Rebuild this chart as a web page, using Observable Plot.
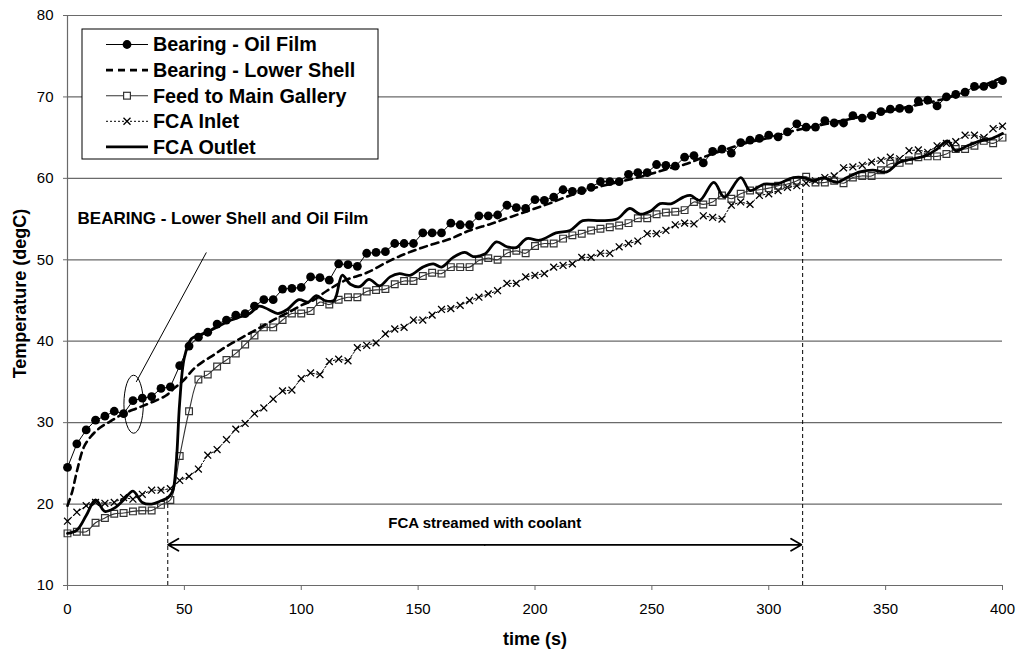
<!DOCTYPE html>
<html><head><meta charset="utf-8">
<script src="https://cdn.jsdelivr.net/npm/d3@7"></script>
<script src="https://cdn.jsdelivr.net/npm/@observablehq/plot@0.6"></script>
<style>
html,body{margin:0;padding:0;background:#fff;}
#chart{width:1022px;height:655px;}
</style></head><body><div id="chart"></div>
<script>
// ---------------- data ----------------
const sampleTime = [0,4,8,12,16,20,24,28,32,36,40,44,48,52,56,60,64,68,72,76,80,84,88,92,96,100,104,108,112,116,120,124,128,132,136,140,144,148,152,156,160,164,168,172,176,180,184,188,192,196,200,204,208,212,216,220,224,228,232,236,240,244,248,252,256,260,264,268,272,276,280,284,288,292,296,300,304,308,312,316,320,324,328,332,336,340,344,348,352,356,360,364,368,372,376,380,384,388,392,396,400];

const oilFilm = [24.5,27.4,29.1,30.3,30.8,31.4,31.1,32.7,33.0,33.2,
 34.2,34.4,37.0,39.4,40.5,41.1,42.1,42.6,43.2,43.4,
 44.3,45.1,45.1,46.4,46.5,46.6,47.9,47.8,47.5,49.5,
 49.4,49.2,50.8,50.9,51.0,52.0,52.0,52.0,53.3,53.3,
 53.3,54.5,54.3,54.3,55.4,55.4,55.5,56.7,56.4,56.3,
 57.4,57.3,57.7,58.6,58.4,58.5,58.9,59.6,59.6,59.6,
 60.5,60.7,60.7,61.7,61.6,61.5,62.6,62.8,61.9,63.3,
 63.6,63.1,64.4,64.7,64.9,65.3,65.1,65.7,66.7,66.3,
 66.3,67.1,66.8,66.8,67.7,67.4,67.7,68.2,68.5,68.6,
 68.5,69.5,69.6,68.9,70.0,70.3,70.6,71.3,71.3,71.5,
 72.0];

const feedGallery = [16.4,16.6,16.6,17.7,18.3,18.8,18.9,19.1,19.2,19.2,
 19.9,20.5,25.9,31.4,35.3,35.9,36.9,37.7,38.5,39.6,
 40.7,41.7,41.7,42.6,43.4,43.4,43.7,44.8,44.5,45.1,
 45.4,45.4,46.1,46.3,46.4,47.0,47.4,47.4,48.0,48.4,
 48.3,49.1,49.1,49.1,49.9,50.2,50.0,50.8,51.1,50.8,
 51.7,52.0,52.0,52.6,53.0,53.2,53.6,53.8,54.0,54.2,
 54.5,55.1,55.1,55.6,55.8,55.9,56.1,57.1,56.8,57.1,
 57.9,57.5,58.1,58.5,58.6,58.8,59.1,59.3,59.7,60.2,
 59.5,59.5,59.7,59.4,60.1,60.3,60.3,61.0,61.8,61.9,
 62.2,62.6,62.7,62.7,63.0,63.6,63.6,64.0,64.6,64.3,
 65.0];

const fcaInlet = [17.9,19.0,19.8,20.2,20.1,20.2,20.8,20.6,21.2,21.7,
 21.7,21.9,22.9,23.4,24.3,26.0,26.7,27.9,29.2,29.9,
 31.1,31.8,32.9,33.9,34.0,35.4,36.1,35.9,37.5,37.8,
 37.6,39.2,39.5,39.8,40.9,41.5,41.7,42.6,42.6,43.2,
 43.9,44.0,44.4,45.0,45.4,45.8,46.2,47.1,47.1,47.9,
 48.1,48.3,49.1,49.3,49.5,50.3,50.3,50.8,50.8,51.6,
 52.0,52.3,53.2,53.2,53.6,54.3,54.5,54.4,55.4,55.2,
 55.0,56.7,57.1,56.8,57.9,58.1,58.5,58.9,59.1,59.4,
 59.7,60.1,60.3,61.3,61.4,61.6,62.0,62.2,62.6,62.4,
 63.4,63.5,63.2,64.0,64.3,64.5,65.3,65.3,65.0,66.1,
 66.4];

const lowerShellTime = [0,2,4,7,10,14,18,24,30,36,42,46,50,54,58,62,66,70,75,80,85,90,95,100,105,111,119,128,138,146,155,164,172,181,189,198,206,215,224,232,241,249,256,265,272,280,290,300,310,320,330,340,350,360,370,380,390,400];
const lowerShell = [19.8,21.5,24.0,27.0,28.3,29.4,30.1,31.1,31.8,32.5,33.3,34.3,35.3,36.6,37.5,38.2,39.0,39.7,40.5,41.3,42.1,42.9,43.6,44.4,45.0,46.2,47.5,48.4,49.9,50.9,51.8,52.6,53.6,54.4,55.2,56.1,56.9,57.9,58.7,59.3,59.9,60.5,61.1,61.8,62.6,63.4,64.3,65.0,65.8,66.4,67.0,67.6,68.2,68.8,69.4,70.2,71.2,72.4];

const outletTime = [0,4,8,12,16,20,24,28,32,36,40,43,45,46.5,48,50,53,57,61,65,70,74,78,82,86,90,94,99,103,106.5,110,114,117.5,121,125,129,133.5,138,142,146.5,152,156.5,160,165,170,173.5,178.5,183.5,188,192,196.5,202,209,215,220.5,228,235,240.5,245,249.5,253.5,258.5,263.5,266.5,270.5,276.5,281,288,292,298,303.5,310.5,315,319,323.5,329,333.5,339,344.5,350.5,356,362,367.5,372,376.5,380,385,390.5,395.5,400];
const fcaOutlet = [16.4,16.8,18.6,20.5,19.1,19.5,20.5,21.6,20.2,20.0,20.4,20.8,21.6,25.0,32.5,38.0,40.3,40.8,41.3,41.9,42.6,43.0,43.4,44.3,43.9,43.4,43.9,45.1,44.8,45.6,45.0,45.0,48.1,47.0,46.7,47.6,46.8,47.9,48.3,48.1,49.1,49.5,49.1,50.3,50.9,50.4,50.7,52.2,51.6,51.5,52.6,52.4,53.3,53.6,54.8,54.8,55.0,56.3,55.6,56.0,56.9,56.9,57.7,57.9,57.3,59.5,57.7,60.1,58.5,59.3,59.3,60.1,60.1,59.7,60.1,59.5,60.1,60.8,61.0,60.8,62.0,62.4,62.8,63.6,64.6,63.4,64.0,64.6,64.9,65.5];

const seriesNames = ["Bearing - Oil Film","Bearing - Lower Shell","Feed to Main Gallery","FCA Inlet","FCA Outlet"];
const xTicks = [0,50,100,150,200,250,300,350,400];
const yTicks = [10,20,30,40,50,60,70,80];

// annotations (data units)
const bearingLabel = {t:4.3, v:55.1, text:"BEARING - Lower Shell and Oil Film"};
const bearingPointer = {t1:59.4, v1:50.9, t2:29.4, v2:35.0};
const bearingEllipse = {t:28.5, v:32.2, dt:4.15, dv:3.56};
const coolantLabel = {t:178.5, v:17.7, text:"FCA streamed with coolant"};
const coolantArrow = {start:43, end:314, mid:178.5, v:15};
const coolantMarkers = [{t:42.9, top:20.0},{t:314.5, top:59.2}];

// ---------------- build ----------------
const FONT = "'Liberation Sans', Arial, Helvetica, sans-serif";
const rows = (ts, vs) => ts.map((t,i) => ({t, v: vs[i]}));
const oil = rows(sampleTime, oilFilm);
const feed = rows(sampleTime, feedGallery);
const inlet = rows(sampleTime, fcaInlet);
const shell = rows(lowerShellTime, lowerShell);
const outlet = rows(outletTime, fcaOutlet);

const GRID = "#6a6a6a";

const plot = Plot.plot({
  width: 1022, height: 655,
  marginLeft: 67, marginRight: 20, marginTop: 15, marginBottom: 70,
  style: {fontFamily: FONT, fontSize: "15px", background: "#fff", color: "#000", overflow: "visible"},
  x: {domain: [0, 400], label: null},
  y: {domain: [10, 80], label: null},
  marks: [
    Plot.ruleY(yTicks, {stroke: GRID, strokeWidth: 1.2}),
    Plot.ruleX([0], {y1: 10, y2: 80, stroke: GRID, strokeWidth: 1.2}),
    Plot.axisX({ticks: xTicks, tickSize: 5, tickPadding: 13, stroke: GRID, label: null}),
    Plot.axisY({ticks: yTicks, tickSize: 4, tickPadding: 10, stroke: GRID, label: null}),
    Plot.text(["Temperature (degC)"], {frameAnchor: "left", dx: -47, dy: -7, rotate: -90, textAnchor: "middle", lineAnchor: "middle", fontSize: 18, fontWeight: "bold"}),
    Plot.text(["time (s)"], {frameAnchor: "bottom", dy: 54, textAnchor: "middle", lineAnchor: "middle", fontSize: 18, fontWeight: "bold"}),

    // coolant annotation
    Plot.ruleX(coolantMarkers, {x: "t", y1: 10, y2: "top", stroke: "#000", strokeWidth: 1, strokeDasharray: "4,3"}),
    Plot.arrow([{a: coolantArrow.mid, b: coolantArrow.start}, {a: coolantArrow.mid, b: coolantArrow.end}],
      {x1: "a", x2: "b", y1: coolantArrow.v, y2: coolantArrow.v, stroke: "#000", strokeWidth: 1.8, headLength: 10}),
    Plot.text([coolantLabel], {x: "t", y: "v", text: "text", fontSize: 15, fontWeight: "bold"}),

    // bearing annotation
    Plot.link([bearingPointer], {x1: "t1", y1: "v1", x2: "t2", y2: "v2", stroke: "#000", strokeWidth: 1}),
    Plot.text([bearingLabel], {x: "t", y: "v", text: "text", textAnchor: "start", fontSize: 17, fontWeight: "bold"}),

    // series
    Plot.line(inlet, {x: "t", y: "v", stroke: "#000", strokeWidth: 1, strokeDasharray: "2,2"}),
    Plot.dot(inlet, {x: "t", y: "v", symbol: "times", r: 3.2, stroke: "#000", strokeWidth: 1.3}),
    Plot.line(feed, {x: "t", y: "v", stroke: "#333", strokeWidth: 1.1, curve: "catmull-rom"}),
    Plot.dot(feed, {x: "t", y: "v", symbol: "square", r: 3.8, stroke: "#333", strokeWidth: 1.2, fill: "none"}),
    Plot.line(shell, {x: "t", y: "v", stroke: "#000", strokeWidth: 2.6, strokeDasharray: "7,5", curve: "catmull-rom"}),
    Plot.line(outlet, {x: "t", y: "v", stroke: "#000", strokeWidth: 2.8, curve: "catmull-rom"}),
    Plot.line(oil, {x: "t", y: "v", stroke: "#000", strokeWidth: 1}),
    Plot.dot(oil, {x: "t", y: "v", r: 4.4, fill: "#000"})
  ]
});

const svg = d3.select(plot);
const sx = plot.scale("x"), sy = plot.scale("y");

// ellipse around the bearing curves
svg.append("ellipse")
  .attr("cx", sx.apply(bearingEllipse.t))
  .attr("cy", sy.apply(bearingEllipse.v))
  .attr("rx", Math.abs(sx.apply(bearingEllipse.t + bearingEllipse.dt) - sx.apply(bearingEllipse.t)))
  .attr("ry", Math.abs(sy.apply(bearingEllipse.v + bearingEllipse.dv) - sy.apply(bearingEllipse.v)))
  .attr("fill", "none").attr("stroke", "#000").attr("stroke-width", 1);

// legend
const lg = svg.append("g").attr("font-family", FONT).attr("text-anchor", "start");
lg.append("rect").attr("x", 82).attr("y", 29).attr("width", 296).attr("height", 130)
  .attr("fill", "#fff").attr("stroke", "#000").attr("stroke-width", 1);
const styles = [
  {w: 1, dash: null, stroke: "#000", mark: "dot"},
  {w: 2.6, dash: "7,5", stroke: "#000", mark: null},
  {w: 1.1, dash: null, stroke: "#333", mark: "square"},
  {w: 1, dash: "2,2", stroke: "#000", mark: "times"},
  {w: 2.8, dash: null, stroke: "#000", mark: null}
];
seriesNames.forEach((name, i) => {
  const y = 44.5 + i * 25.6;
  const s = styles[i];
  const ln = lg.append("line").attr("x1", 106).attr("x2", 148).attr("y1", y).attr("y2", y)
    .attr("stroke", s.stroke).attr("stroke-width", s.w);
  if (s.dash) ln.attr("stroke-dasharray", s.dash);
  if (s.mark === "dot") lg.append("circle").attr("cx", 127).attr("cy", y).attr("r", 4.4).attr("fill", "#000");
  if (s.mark === "square") lg.append("rect").attr("x", 123.6).attr("y", y - 3.4).attr("width", 6.8).attr("height", 6.8)
    .attr("fill", "#fff").attr("stroke", "#333").attr("stroke-width", 1.2);
  if (s.mark === "times") lg.append("path").attr("d", `M${123.5},${y-3.5}L${130.5},${y+3.5}M${123.5},${y+3.5}L${130.5},${y-3.5}`)
    .attr("stroke", "#000").attr("stroke-width", 1.3);
  lg.append("text").attr("x", 153).attr("y", y).attr("dy", "0.35em").attr("text-anchor", "start")
    .attr("font-size", 19.8).attr("font-weight", "bold").attr("fill", "#000").text(name);
});

document.getElementById("chart").appendChild(plot);
</script>
</body></html>
